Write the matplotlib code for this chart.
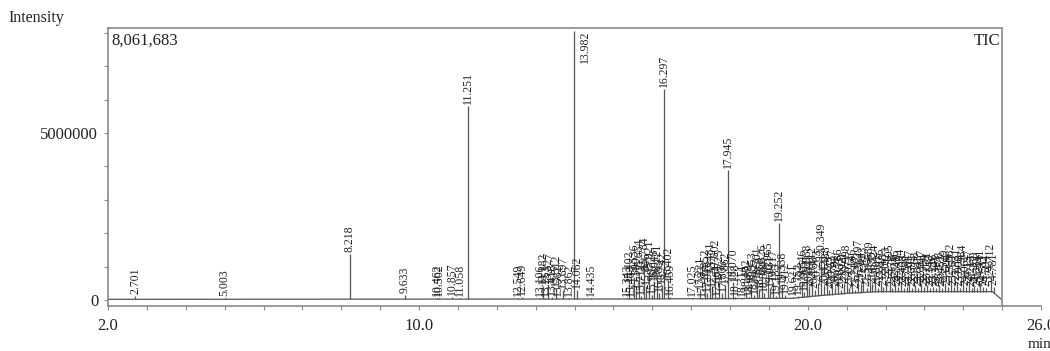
import numpy as np
import matplotlib.pyplot as plt

plt.rcParams['font.family'] = ['Liberation Serif', 'DejaVu Serif']

# retention time (min) and peak height (millions of counts)
rt = [2.701, 5.003, 8.218, 9.633,
      10.462, 10.502, 10.857, 11.058, 11.251,
      12.549, 12.649,
      13.106, 13.182, 13.253, 13.327, 13.418, 13.512, 13.582, 13.697, 13.862, 13.982, 14.062, 14.435,
      15.343, 15.402, 15.463, 15.536, 15.590, 15.654, 15.712, 15.784, 15.846, 15.921, 15.987,
      16.048, 16.121, 16.183, 16.242, 16.297, 16.402, 16.459,
      17.025, 17.221, 17.283, 17.352, 17.418, 17.481, 17.537, 17.602, 17.664, 17.725, 17.806,
      17.862, 17.945, 18.070, 18.128,
      18.314, 18.402, 18.488, 18.553, 18.612, 18.701, 18.758, 18.826, 18.884, 18.965, 19.031,
      19.117, 19.185, 19.252, 19.338, 19.412, 19.621,
      19.752, 19.846, 19.905, 19.968, 20.041, 20.112, 20.186, 20.263, 20.349, 20.421, 20.488,
      20.553, 20.627, 20.702, 20.786, 20.853, 20.921, 20.998, 21.072, 21.146, 21.218, 21.297,
      21.364, 21.433, 21.512, 21.589, 21.655, 21.724, 21.801, 21.876, 21.948, 22.023, 22.105,
      22.178, 22.246, 22.319, 22.394, 22.468, 22.541, 22.617, 22.692, 22.768, 22.843, 22.917,
      22.994, 23.071, 23.148, 23.226, 23.301, 23.378, 23.452, 23.529, 23.604, 23.682, 23.757,
      23.831, 23.908, 23.984, 24.062, 24.137, 24.213, 24.289, 24.364, 24.441, 24.517, 24.594,
      24.712, 24.781]
height_M = [0.12, 0.06, 1.38, 0.15,
            0.07, 0.05, 0.08, 0.06, 5.80,
            0.07, 0.10,
            0.05, 0.42, 0.06, 0.45, 0.08, 0.35, 0.07, 0.30, 0.06, 8.061683, 0.30, 0.06,
            0.05, 0.48, 0.07, 0.70, 0.30, 0.85, 0.12, 0.90, 0.42, 0.80, 0.15,
            0.55, 0.70, 0.20, 0.45, 6.33, 0.60, 0.10,
            0.06, 0.30, 0.06, 0.55, 0.20, 0.75, 0.35, 0.85, 0.10, 0.55, 0.20,
            0.45, 3.90, 0.55, 0.08,
            0.07, 0.25, 0.10, 0.45, 0.15, 0.60, 0.30, 0.70, 0.20, 0.75, 0.35,
            0.55, 0.12, 2.30, 0.45, 0.15, 0.08,
            0.12, 0.55, 0.25, 0.70, 0.35, 0.60, 0.30, 0.50, 1.30, 0.40, 0.60,
            0.30, 0.50, 0.35, 0.55, 0.30, 0.45, 0.65, 0.35, 0.55, 0.30, 0.80,
            0.45, 0.60, 0.35, 0.75, 0.45, 0.65, 0.35, 0.55, 0.40, 0.60, 0.65,
            0.35, 0.50, 0.40, 0.55, 0.35, 0.40, 0.50, 0.35, 0.45, 0.35, 0.50,
            0.40, 0.45, 0.35, 0.40, 0.35, 0.45, 0.35, 0.50, 0.40, 0.70, 0.40,
            0.55, 0.35, 0.65, 0.40, 0.50, 0.35, 0.45, 0.35, 0.50, 0.40, 0.35,
            0.70, 0.40]

# baseline drift of the TIC (min, millions)
base_rt = [2.0, 15.0, 19.6, 20.2, 21.0, 21.8, 24.75, 25.0]
base_M = [0.02, 0.03, 0.05, 0.12, 0.20, 0.25, 0.25, 0.0]

heights = np.array(height_M) * 1e6
base_y = np.array(base_M) * 1e6
foot = np.interp(rt, base_rt, base_y)

fig = plt.figure(figsize=(10.5, 3.51), dpi=100)
ax = fig.add_axes([108/1050, 1 - 306/351, 933/1050, 278/351])

ink = '#222222'
frame = '#8a8a8a'

ax.plot(base_rt, base_y, color='#555555', lw=0.9)
ax.vlines(rt, foot, heights, color='#555555', lw=0.9)

ymax = 8.15e6
for t, h in zip(rt, heights):
    lab = f"{t:.3f}"
    if h > 7e6:
        ax.text(t + 0.28, ymax * 0.99, lab, rotation=90, ha='center', va='top',
                fontsize=8.5, color=ink)
    else:
        ax.annotate(lab, (t, h), xytext=(0, 1.5), textcoords='offset points',
                    rotation=90, ha='center', va='bottom', fontsize=8.5, color=ink)

ax.set_xlim(2.0, 26.0)
ax.set_ylim(-0.18e6, ymax)

ax.set_xticks([2.0, 10.0, 20.0, 26.0])
ax.set_xticklabels(['2.0', '10.0', '20.0', '26.0'])
ax.set_xticks(np.arange(3, 26, 1.0), minor=True)
ax.set_yticks([0, 5000000])
ax.set_yticklabels(['0', '5000000'])
ax.set_yticks(np.arange(1e6, 8.1e6, 1e6), minor=True)
ax.tick_params(which='both', direction='out', length=3, width=0.8, color=frame,
               labelsize=12, labelcolor=ink)
ax.tick_params(axis='x', pad=6)
ax.tick_params(axis='y', pad=4)

for s in ['left', 'bottom', 'top']:
    ax.spines[s].set_color(frame)
    ax.spines[s].set_linewidth(1.2)
ax.spines['top'].set_bounds(2.0, 25.0)
ax.spines['right'].set_visible(False)
ax.axvline(25.0, color=frame, lw=1.2)

ax.text(0.004, 0.955, '8,061,683', transform=ax.transAxes, fontsize=12, color=ink,
        ha='left', va='center')
ax.text(24.95, 7.75e6, 'TIC', fontsize=12, color=ink, ha='right', va='center')

fig.text(8/1050, 1 - 18/351, 'Intensity', fontsize=11.5, color=ink, ha='left', va='center')
fig.text(1040/1050, 1 - 345/351, 'min', fontsize=11, color=ink, ha='center', va='center')

plt.savefig('out.png', dpi=100)
plt.close()
